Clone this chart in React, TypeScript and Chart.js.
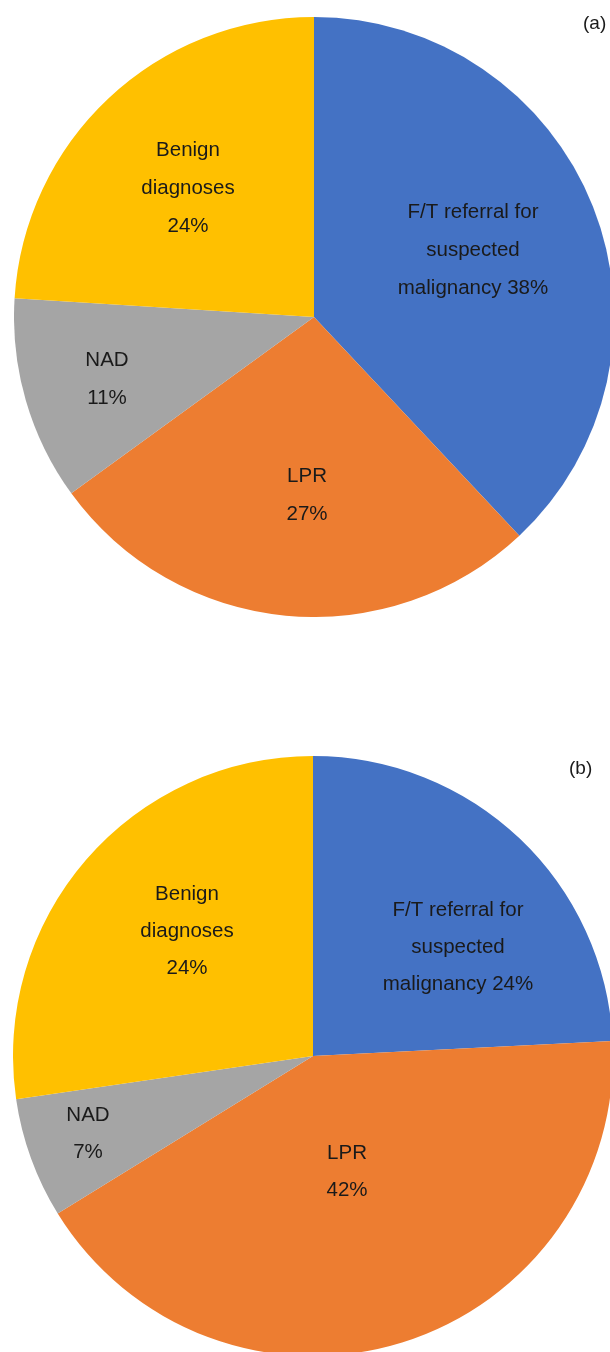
import React, { useEffect, useRef } from "react";
import { Chart, registerables } from "chart.js";

Chart.register(...registerables);

// ---- data ----
const categories = ["F/T referral for suspected malignancy", "LPR", "NAD", "Benign diagnoses"];
const valuesA = [38, 27, 11, 24];
const valuesB = [24.2, 42, 6.5, 27.3];
const labelsA = [
  ["F/T referral for", "suspected", "malignancy 38%"],
  ["LPR", "27%"],
  ["NAD", "11%"],
  ["Benign", "diagnoses", "24%"],
];
const labelsB = [
  ["F/T referral for", "suspected", "malignancy 24%"],
  ["LPR", "42%"],
  ["NAD", "7%"],
  ["Benign", "diagnoses", "24%"],
];
const panelTitles = ["(a)", "(b)"];

// ---- style ----
const colors = ["#4472C4", "#ED7D31", "#A5A5A5", "#FFC000"];
const FONT = '"Liberation Sans", Arial, Helvetica, sans-serif';
const R0 = 300;
// label centre offsets relative to pie centre, in px at radius R0
const offsetsA = [
  [159, -67],
  [-7, 178],
  [-207, 62],
  [-126, -129],
];
const offsetsB = [
  [145, -109],
  [34, 116],
  [-225, 78],
  [-126, -125],
];

function makeLabelPlugin(lines: string[][], offsets: number[][], lineH: number) {
  return {
    id: "sliceLabels",
    afterDatasetsDraw(chart: any) {
      const meta = chart.getDatasetMeta(0);
      const ctx = chart.ctx;
      ctx.save();
      ctx.fillStyle = "#1a1a1a";
      ctx.font = `20.5px ${FONT}`;
      ctx.textAlign = "center";
      ctx.textBaseline = "middle";
      meta.data.forEach((arc: any, i: number) => {
        const r = arc.outerRadius / R0;
        const cx = arc.x + offsets[i][0] * r;
        const cy = arc.y + offsets[i][1] * r;
        const ls = lines[i];
        const start = cy - ((ls.length - 1) * lineH) / 2;
        ls.forEach((t, j) => ctx.fillText(t, cx, start + j * lineH));
      });
      ctx.restore();
    },
  };
}

function Pie(props: {
  values: number[];
  lines: string[][];
  offsets: number[][];
  lineH: number;
  left: number;
  top: number;
}) {
  const ref = useRef<HTMLCanvasElement>(null);
  useEffect(() => {
    if (!ref.current) return;
    const chart = new Chart(ref.current, {
      type: "pie",
      data: {
        labels: categories,
        datasets: [
          {
            data: props.values,
            backgroundColor: colors,
            borderWidth: 0,
          },
        ],
      },
      options: {
        responsive: false,
        animation: false,
        layout: { padding: 0 },
        plugins: {
          legend: { display: false },
          tooltip: { enabled: false },
        },
      },
      plugins: [makeLabelPlugin(props.lines, props.offsets, props.lineH)],
    });
    return () => chart.destroy();
  }, []);
  return (
    <canvas
      ref={ref}
      width={600}
      height={600}
      style={{ position: "absolute", left: props.left, top: props.top, width: 600, height: 600 }}
    />
  );
}

export default function App() {
  return (
    <div
      style={{
        position: "absolute",
        left: 0,
        top: 0,
        width: 610,
        height: 1352,
        overflow: "hidden",
        background: "#fff",
      }}
    >
      <Pie values={valuesA} lines={labelsA} offsets={offsetsA} lineH={38} left={14} top={17} />
      <Pie values={valuesB} lines={labelsB} offsets={offsetsB} lineH={37} left={13} top={756} />
      <div
        style={{ position: "absolute", left: 583, top: 12, font: `19px ${FONT}`, color: "#1a1a1a" }}
      >
        {panelTitles[0]}
      </div>
      <div
        style={{ position: "absolute", left: 569, top: 757, font: `19px ${FONT}`, color: "#1a1a1a" }}
      >
        {panelTitles[1]}
      </div>
    </div>
  );
}
